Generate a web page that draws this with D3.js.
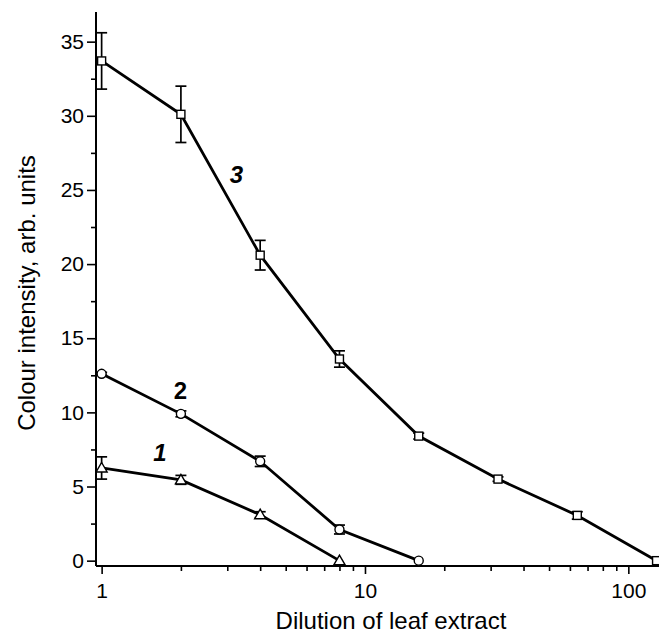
<!DOCTYPE html>
<html>
<head>
<meta charset="utf-8">
<script src="https://cdn.jsdelivr.net/npm/d3@7"></script>
<style>
  html, body { margin: 0; padding: 0; background: #fff; }
  svg { display: block; font-family: "Liberation Sans", Arial, sans-serif; }
</style>
</head>
<body>
<svg id="chart" width="659" height="634"></svg>
<script>
// Dilution steps of the leaf extract
const dilution = [1, 2, 4, 8, 16, 32, 64, 128];

// Curve 1 (triangles)
const s1x = [1, 2, 4, 8];
const s1y = [6.25, 5.45, 3.1, 0];
const s1e = [0.75, 0.3, 0.2, 0];

// Curve 2 (circles)
const s2x = [1, 2, 4, 8, 16];
const s2y = [12.6, 9.9, 6.7, 2.1, 0];
const s2e = [0.1, 0.2, 0.35, 0.3, 0];

// Curve 3 (squares)
const s3x = [1, 2, 4, 8, 16, 32, 64, 128];
const s3y = [33.7, 30.1, 20.6, 13.6, 8.4, 5.5, 3.05, 0];
const s3e = [1.9, 1.9, 1.0, 0.55, 0.2, 0.15, 0.25, 0];

const yTicks = [0, 5, 10, 15, 20, 25, 30, 35];
const yMinor = [2.5, 7.5, 12.5, 17.5, 22.5, 27.5, 32.5];
const xTickLabels = [1, 10, 100];

const svg = d3.select("#chart");
const plotL = 96, plotR = 660, plotT = 12, plotB = 566;

const x = d3.scaleLog().domain([0.952, 131.9]).range([plotL, plotR]);
const y = d3.scaleLinear().domain([-0.36, 37]).range([plotB, plotT]);

// x axis: majors at decades, minors at 2..9
const xMinor = [];
[1, 10, 100].forEach(d => { for (let k = 2; k <= 9; k++) if (d * k <= 131.9) xMinor.push(d * k); });

const xAxis = svg.append("g").attr("transform", `translate(0,${plotB})`);
xAxis.call(d3.axisBottom(x).tickValues(xTickLabels).tickFormat(d3.format("d")).tickSize(8).tickPadding(9));
xAxis.append("g").call(d3.axisBottom(x).tickValues(xMinor).tickFormat("").tickSize(5));
xAxis.selectAll(".domain").attr("d", `M${plotL},0H${plotR}`);

const yAxis = svg.append("g").attr("transform", `translate(${plotL},0)`);
yAxis.call(d3.axisLeft(y).tickValues(yTicks).tickSize(9).tickPadding(3));
yAxis.append("g").call(d3.axisLeft(y).tickValues(yMinor).tickFormat("").tickSize(5));
yAxis.selectAll(".domain").attr("d", `M0,${plotT}V${plotB}`);

svg.selectAll(".domain").attr("stroke", "#000").attr("stroke-width", 2);
svg.selectAll(".tick line").attr("stroke", "#000").attr("stroke-width", 1.6);
svg.selectAll(".tick text").attr("font-size", 21).attr("fill", "#000")
  .attr("font-family", "'Liberation Sans', Arial, sans-serif");

// axis titles
svg.append("text").attr("x", 391).attr("y", 629).attr("text-anchor", "middle")
  .attr("font-size", 24).text("Dilution of leaf extract");
svg.append("text").attr("transform", "translate(35,293) rotate(-90)")
  .attr("text-anchor", "middle").attr("font-size", 24).text("Colour intensity, arb. units");

const line = d3.line().x(d => x(d[0])).y(d => y(d[1]));

function drawSeries(xs, ys, es, shape) {
  const pts = xs.map((v, i) => [v, ys[i], es[i]]);
  const g = svg.append("g");
  g.append("path").datum(pts).attr("d", line)
    .attr("fill", "none").attr("stroke", "#000").attr("stroke-width", 2.8);
  // error bars
  pts.filter(p => p[2] > 0).forEach(p => {
    const cx = x(p[0]), y1 = y(p[1] - p[2]), y2 = y(p[1] + p[2]);
    g.append("line").attr("x1", cx).attr("x2", cx).attr("y1", y1).attr("y2", y2)
      .attr("stroke", "#000").attr("stroke-width", 1.7);
    [y1, y2].forEach(yy => g.append("line").attr("x1", cx - 5.5).attr("x2", cx + 5.5)
      .attr("y1", yy).attr("y2", yy).attr("stroke", "#000").attr("stroke-width", 1.7));
  });
  // markers
  pts.forEach(p => {
    const cx = x(p[0]), cy = y(p[1]);
    let m;
    if (shape === "square") {
      m = g.append("rect").attr("x", cx - 4).attr("y", cy - 4).attr("width", 8).attr("height", 8);
    } else if (shape === "circle") {
      m = g.append("circle").attr("cx", cx).attr("cy", cy).attr("r", 4.5);
    } else {
      m = g.append("path").attr("d", `M${cx},${cy - 5.5}L${cx + 5.5},${cy + 4}L${cx - 5.5},${cy + 4}Z`);
    }
    m.attr("fill", "#fff").attr("stroke", "#000").attr("stroke-width", 1.4);
  });
}

drawSeries(s1x, s1y, s1e, "triangle");
drawSeries(s2x, s2y, s2e, "circle");
drawSeries(s3x, s3y, s3e, "square");

// curve numbers
const curveLabels = [
  { t: "1", xv: 1.665, yv: 6.7, italic: true },
  { t: "2", xv: 1.99, yv: 10.9, italic: false },
  { t: "3", xv: 3.25, yv: 25.5, italic: true }
];
curveLabels.forEach(l => svg.append("text")
  .attr("x", x(l.xv)).attr("y", y(l.yv)).attr("text-anchor", "middle")
  .attr("font-size", 24).attr("font-weight", "bold")
  .attr("font-style", l.italic ? "italic" : "normal").text(l.t));
</script>
</body>
</html>
